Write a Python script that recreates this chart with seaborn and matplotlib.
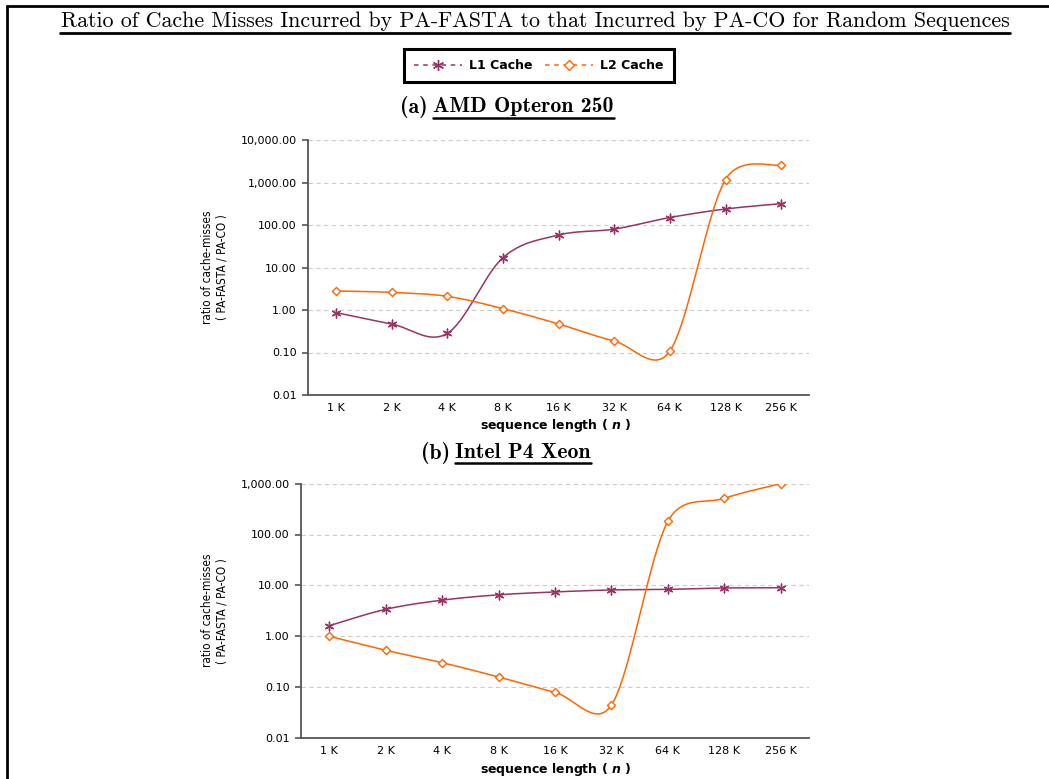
import numpy as np
import pandas as pd
import matplotlib
matplotlib.use("Agg")
import matplotlib.pyplot as plt
import seaborn as sns
from matplotlib.lines import Line2D
from matplotlib.ticker import FixedLocator, FuncFormatter, NullLocator

# ---------------- data ----------------
categories = ['1 K', '2 K', '4 K', '8 K', '16 K', '32 K', '64 K', '128 K', '256 K']
amd_l1 = [0.87, 0.47, 0.28, 16.9, 58.0, 80.0, 150.0, 238.0, 318.0]
amd_l2 = [2.80, 2.60, 2.10, 1.08, 0.47, 0.186, 0.108, 1175.0, 2580.0]
xeon_l1 = [1.60, 3.37, 5.10, 6.50, 7.40, 8.10, 8.30, 8.85, 8.95]
xeon_l2 = [0.99, 0.525, 0.30, 0.157, 0.078, 0.044, 182.0, 516.0, 1000.0]
series_names = ['L1 Cache', 'L2 Cache']
panel_prefix = ['(a)', '(b)']
panel_names = ['AMD Opteron 250', 'Intel P4 Xeon']
main_title = 'Ratio of Cache Misses Incurred by PA-FASTA to that Incurred by PA-CO for Random Sequences'
y_label = 'ratio of cache-misses\n( PA-FASTA / PA-CO )'
x_label = r'sequence length ( $\boldsymbol{n}$ )'

C_L1 = '#993366'
C_L2 = '#FF6600'

sns.set_theme(style='white')
plt.rcParams['font.family'] = ['DejaVu Sans']
plt.rcParams['text.color'] = 'black'

W, H = 1049, 779
fig = plt.figure(figsize=(W / 100, H / 100), dpi=100)
fig.patch.set_facecolor('white')


def fx(x):
    return x / W


def fy(y):
    return 1 - y / H


def smooth(vals, px_x, px_dec, n=40):
    """Excel-like smoothed line: Bezier segments whose control offsets are (P[i+1]-P[i-1])/6,
    capped at half of the segment length, computed in screen-pixel space."""
    x = np.arange(len(vals), dtype=float) * px_x
    y = np.log10(np.asarray(vals, dtype=float)) * px_dec
    P = np.column_stack([x, y])
    out = []
    for i in range(len(P) - 1):
        p0 = P[i - 1] if i > 0 else P[i]
        p1 = P[i]
        p2 = P[i + 1]
        p3 = P[i + 2] if i + 2 < len(P) else P[i + 1]
        half = np.linalg.norm(p2 - p1) / 2.0
        o1 = (p2 - p0) / 6.0
        o2 = (p3 - p1) / 6.0
        for o in (o1, o2):
            L = np.linalg.norm(o)
            if L > half and L > 0:
                o *= half / L
        b1 = p1 + o1
        b2 = p2 - o2
        t = np.linspace(0, 1, n)[:, None]
        seg = ((1 - t) ** 3) * p1 + 3 * ((1 - t) ** 2) * t * b1 + 3 * (1 - t) * t ** 2 * b2 + t ** 3 * p2
        out.append(seg if i == 0 else seg[1:])
    out = np.vstack(out)
    return out[:, 0] / px_x, 10 ** (out[:, 1] / px_dec)


def draw_panel(ax, l1, l2, ymax, width_px, height_px):
    pos = np.arange(len(categories))
    n_dec = np.log10(ymax) + 2
    px_x = width_px / len(categories)
    px_dec = height_px / n_dec
    for vals, col in ((l1, C_L1), (l2, C_L2)):
        sx, sy = smooth(vals, px_x, px_dec)
        ax.plot(sx, sy, color=col, lw=1.1, zorder=2, solid_capstyle='round')
    df1 = pd.DataFrame({'x': pos, 'y': l1})
    df2 = pd.DataFrame({'x': pos, 'y': l2})
    sns.scatterplot(data=df1, x='x', y='y', ax=ax, marker=(6, 2, 0), s=40,
                    color=C_L1, linewidth=1.0, zorder=3, legend=False)
    sns.scatterplot(data=df2, x='x', y='y', ax=ax, marker='D', s=17,
                    color='white', edgecolor=C_L2, linewidth=1.0, zorder=3, legend=False)
    ax.set_yscale('log')
    ax.set_ylim(0.01, ymax)
    ax.set_xlim(-0.5, len(categories) - 0.5)
    decades = [10.0 ** k for k in range(-2, int(round(np.log10(ymax))) + 1)]
    ax.yaxis.set_major_locator(FixedLocator(decades))
    ax.yaxis.set_minor_locator(NullLocator())
    ax.yaxis.set_major_formatter(FuncFormatter(lambda v, p: f'{v:,.2f}'))
    ax.set_xticks(pos)
    ax.set_xticklabels(categories)
    ax.xaxis.set_minor_locator(FixedLocator(np.arange(-0.5, len(categories), 1.0)))
    ax.tick_params(axis='x', which='major', length=0, pad=6, labelsize=8, labelcolor='black')
    ax.tick_params(axis='x', which='minor', length=4, width=1.2, color='#555555', direction='out')
    ax.tick_params(axis='y', which='major', length=4, width=1.2, color='#555555',
                   direction='out', pad=4, labelsize=8, labelcolor='black', left=True)
    ax.set_xlabel('')
    ax.set_ylabel('')
    ax.grid(False)
    ax.yaxis.grid(True, which='major', linestyle=(0, (4, 3)), color='#cccccc', lw=0.8, zorder=0)
    for s in ('top', 'right'):
        ax.spines[s].set_visible(False)
    for s in ('left', 'bottom'):
        ax.spines[s].set_color('#555555')
        ax.spines[s].set_linewidth(1.3)
    ax.set_facecolor('white')


ax1 = fig.add_axes([fx(308), fy(395), (809 - 308) / W, (395 - 140) / H])
ax2 = fig.add_axes([fx(301), fy(737.7), (809 - 301) / W, (737.7 - 483.7) / H])
draw_panel(ax1, amd_l1, amd_l2, 10000, 809 - 308, 395 - 140)
draw_panel(ax2, xeon_l1, xeon_l2, 1000, 809 - 301, 737.7 - 483.7)

# axis labels as figure text
for yc in ((140 + 395) / 2, (483.7 + 737.7) / 2):
    fig.text(fx(215), fy(yc), y_label, rotation=90, ha='center', va='center',
             fontsize=8.5, fontstretch='condensed', family=['Liberation Sans Narrow', 'DejaVu Sans'],
             linespacing=1.15, color='black')
for yc in (425, 770):
    fig.text(fx(556), fy(yc), x_label, ha='center', va='center', fontsize=9, fontweight='bold',
             color='black')

# legend
handles = [
    Line2D([], [], color=C_L1, linestyle=(0, (3, 3)), lw=1.1, marker=(6, 2, 0), markersize=8,
           markeredgewidth=1.0),
    Line2D([], [], color=C_L2, linestyle=(0, (3, 3)), lw=1.1, marker='D', markersize=5,
           markerfacecolor='white', markeredgecolor=C_L2, markeredgewidth=1.0),
]
leg = fig.legend(handles, series_names, loc='center', bbox_to_anchor=(fx(539), fy(65.5)), ncol=2,
                 frameon=True, fancybox=False, edgecolor='black', framealpha=1,
                 prop={'weight': 'bold', 'size': 9}, handlelength=3.8, columnspacing=1.0,
                 handletextpad=0.6, borderpad=0.8, borderaxespad=0)
leg.get_frame().set_linewidth(2.2)

# titles
fig.canvas.draw()
renderer = fig.canvas.get_renderer()


def fit(t, target_w):
    bb = t.get_window_extent(renderer)
    t.set_fontsize(t.get_fontsize() * target_w / bb.width)
    return t


tt = fig.text(fx(535), fy(21), main_title, ha='center', va='center', fontsize=14,
              family=['cmr10', 'DejaVu Serif'], color='black')
fit(tt, 948)
fig.add_artist(Line2D([fx(60), fx(1010)], [fy(33), fy(33)], color='black', lw=2.0))

for (pre, name, yc, x0, x1, xp, yu) in ((panel_prefix[0], panel_names[0], 107, 433, 614, 428, 118),
                                        (panel_prefix[1], panel_names[1], 453, 455, 591, 450, 463)):
    tn = fig.text(fx(x0), fy(yc), name, ha='left', va='center', fontsize=12,
                  family=['cmb10', 'DejaVu Serif'], fontweight='bold', color='black')
    fit(tn, x1 - x0)
    fig.text(fx(xp), fy(yc), pre, ha='right', va='center', fontsize=tn.get_fontsize(),
             family=['cmb10', 'DejaVu Serif'], fontweight='bold', color='black')
    fig.add_artist(Line2D([fx(x0), fx(x1)], [fy(yu), fy(yu)], color='black', lw=1.8))

# page frame (left and top edges)
fig.add_artist(Line2D([fx(7), fx(7)], [fy(6), 0], color='black', lw=2.0))
fig.add_artist(Line2D([fx(7), 1], [fy(6), fy(6)], color='black', lw=2.0))

fig.savefig('out.png', dpi=100, facecolor='white')
